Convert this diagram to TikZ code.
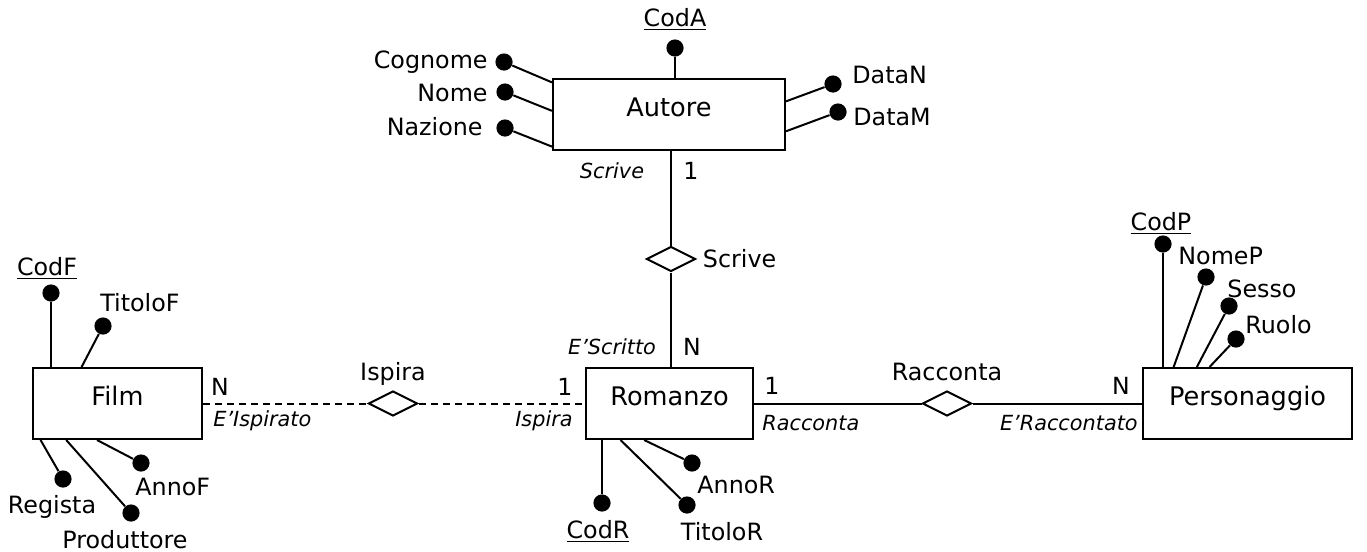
\documentclass[tikz,border=0pt]{standalone}
\usepackage{fontspec}
\setmainfont{DejaVu Sans}
\usetikzlibrary{calc, positioning, shapes.geometric}
\tikzset{
    entity_node/.style={rectangle, draw=black, line width=1pt, minimum height=35.5pt, text centered, text height=9.3pt, text depth=7.5pt, inner sep=0pt, font=\fontsize{12.8}{14}\selectfont},
    rel_node/.style={diamond, draw=black, line width=1pt, fill=white, inner sep=0pt, minimum width=24.5pt, minimum height=12.5pt},
    attr_dot/.style={circle, fill=black, inner sep=0pt, minimum size=8.6pt},
    attr_text/.style={inner sep=0pt, text height=8.7pt, text depth=0pt, font=\fontsize{11.9}{13}\selectfont},
    card_text/.style={inner sep=0pt, text height=8.6pt, text depth=0pt, font=\fontsize{11.8}{13}\selectfont},
    role_text/.style={inner sep=0pt, text height=7.6pt, text depth=0pt, font=\fontsize{10.4}{12}\selectfont\itshape},
    line/.style={line width=1pt},
    dashed_line/.style={line width=1pt, dash pattern=on 3.5pt off 2.5pt},
}

\begin{document}
\begin{tikzpicture}[x=0.5pt, y=-0.5pt]
      \useasboundingbox (0,0) rectangle (1367,552);

      % entities
      \node (autore) [entity_node, minimum width=116pt] at (669,114.5) {Autore};
      \node (romanzo) [entity_node, minimum width=83.5pt] at (669.5,403.5) {Romanzo};
      \node (film) [entity_node, minimum width=84.5pt] at (117.5,403.5) {Film};
      \node (personaggio) [entity_node, minimum width=104.5pt] at (1247.5,403.5) {Personaggio};

      % relationships
      \node (scrive) [rel_node] at (671,259) {};
      \node (ispira) [rel_node] at (393,403.5) {};
      \node (racconta) [rel_node] at (947,403.5) {};

      \node (scrive_label) [attr_text, right=3pt of scrive] {Scrive};
      \node (ispira_label) [attr_text, above=4.5pt of ispira] {Ispira};
      \node (racconta_label) [attr_text, above=4.5pt of racconta] {Racconta};

      \draw [line] (scrive) -- (scrive |- autore.south);
      \draw [line] (scrive) -- (scrive |- romanzo.north);
      \draw [dashed_line] (film) -- (ispira);
      \draw [dashed_line] (ispira) -- (romanzo);
      \draw [line] (romanzo) -- (racconta);
      \draw [line] (racconta) -- (personaggio);

      % roles and cardinalities
      \node (scrive_role) [role_text] at (612,171) {Scrive};
      \node (scrive_card) [card_text] at (691,171) {1};
      \node (scritto_role) [role_text] at (612,347) {E'Scritto};
      \node (scritto_card) [card_text] at (692,347) {N};

      \node (ispirato_card) [card_text] at (220,387) {N};
      \node (ispirato_role) [role_text, anchor=west] at (213,419) {E'Ispirato};
      \node (ispira_card) [card_text] at (565,387) {1};
      \node (ispira_role) [role_text, anchor=east] at (573,419) {Ispira};

      \node (racconta_card) [card_text] at (772,386) {1};
      \node (racconta_role) [role_text, anchor=west] at (762,423) {Racconta};
      \node (raccontato_card) [card_text] at (1121,386) {N};
      \node (raccontato_role) [role_text, anchor=east] at (1138,423) {E'Raccontato};

      % attributes of Autore
      \node (coda) [attr_dot] at (675,48) {};
      \node (cognome) [attr_dot] at (504,62) {};
      \node (nome) [attr_dot] at (505,92) {};
      \node (nazione) [attr_dot] at (505,128) {};
      \node (datan) [attr_dot] at (833,84) {};
      \node (datam) [attr_dot] at (838,112) {};

      \node (coda_text) [attr_text] at (675,18) {\underline{CodA}};
      \node (cognome_text) [attr_text, anchor=east] at (488,60) {Cognome};
      \node (nome_text) [attr_text, anchor=east] at (488,93) {Nome};
      \node (nazione_text) [attr_text, anchor=east] at (483,127) {Nazione};
      \node (datan_text) [attr_text, anchor=west] at (852,75) {DataN};
      \node (datam_text) [attr_text, anchor=west] at (853,117) {DataM};

      \draw [line] (coda) -- (coda |- autore.north);
      \draw [line] (cognome) -- ($(autore.north west)!0.06!(autore.south west)$);
      \draw [line] (nome) -- ($(autore.north west)!0.45!(autore.south west)$);
      \draw [line] (nazione) -- ($(autore.north west)!0.94!(autore.south west)$);
      \draw [line] (datan) -- ($(autore.north east)!0.32!(autore.south east)$);
      \draw [line] (datam) -- ($(autore.north east)!0.73!(autore.south east)$);

      % attributes of Film
      \node (codf) [attr_dot] at (51,293) {};
      \node (titolof) [attr_dot] at (103,326) {};
      \node (regista) [attr_dot] at (63,479) {};
      \node (produttore) [attr_dot] at (131,513) {};
      \node (annof) [attr_dot] at (141,463) {};

      \node (codf_text) [attr_text] at (47,267) {\underline{CodF}};
      \node (titolof_text) [attr_text, anchor=west] at (100,303) {TitoloF};
      \node (regista_text) [attr_text] at (52,505) {Regista};
      \node (produttore_text) [attr_text] at (125,540) {Produttore};
      \node (annof_text) [attr_text, anchor=west] at (135,487) {AnnoF};

      \draw [line] (codf) -- (codf |- film.north);
      \draw [line] (titolof) -- ($(film.north west)!0.29!(film.north east)$);
      \draw [line] (regista) -- ($(film.south west)!0.05!(film.south east)$);
      \draw [line] (produttore) -- ($(film.south west)!0.2!(film.south east)$);
      \draw [line] (annof) -- ($(film.south west)!0.38!(film.south east)$);

      % attributes of Romanzo
      \node (codr) [attr_dot] at (602,503) {};
      \node (titolor) [attr_dot] at (687,505) {};
      \node (annor) [attr_dot] at (692,463) {};

      \node (codr_text) [attr_text] at (598,530) {\underline{CodR}};
      \node (titolor_text) [attr_text] at (722,532) {TitoloR};
      \node (annor_text) [attr_text, anchor=west] at (697,485) {AnnoR};

      \draw [line] (codr) -- (codr |- romanzo.south);
      \draw [line] (titolor) -- ($(romanzo.south west)!0.21!(romanzo.south east)$);
      \draw [line] (annor) -- ($(romanzo.south west)!0.35!(romanzo.south east)$);

      % attributes of Personaggio
      \node (codp) [attr_dot] at (1163,244) {};
      \node (nomep) [attr_dot] at (1206,277) {};
      \node (sesso) [attr_dot] at (1229,306) {};
      \node (ruolo) [attr_dot] at (1236,339) {};

      \node (codp_text) [attr_text] at (1161,222) {\underline{CodP}};
      \node (nomep_text) [attr_text, anchor=west] at (1178,256) {NomeP};
      \node (sesso_text) [attr_text, anchor=west] at (1227,289) {Sesso};
      \node (ruolo_text) [attr_text, anchor=west] at (1245,325) {Ruolo};

      \draw [line] (codp) -- (codp |- personaggio.north);
      \draw [line] (nomep) -- ($(personaggio.north west)!0.15!(personaggio.north east)$);
      \draw [line] (sesso) -- ($(personaggio.north west)!0.26!(personaggio.north east)$);
      \draw [line] (ruolo) -- ($(personaggio.north west)!0.32!(personaggio.north east)$);
\end{tikzpicture}
\end{document}
